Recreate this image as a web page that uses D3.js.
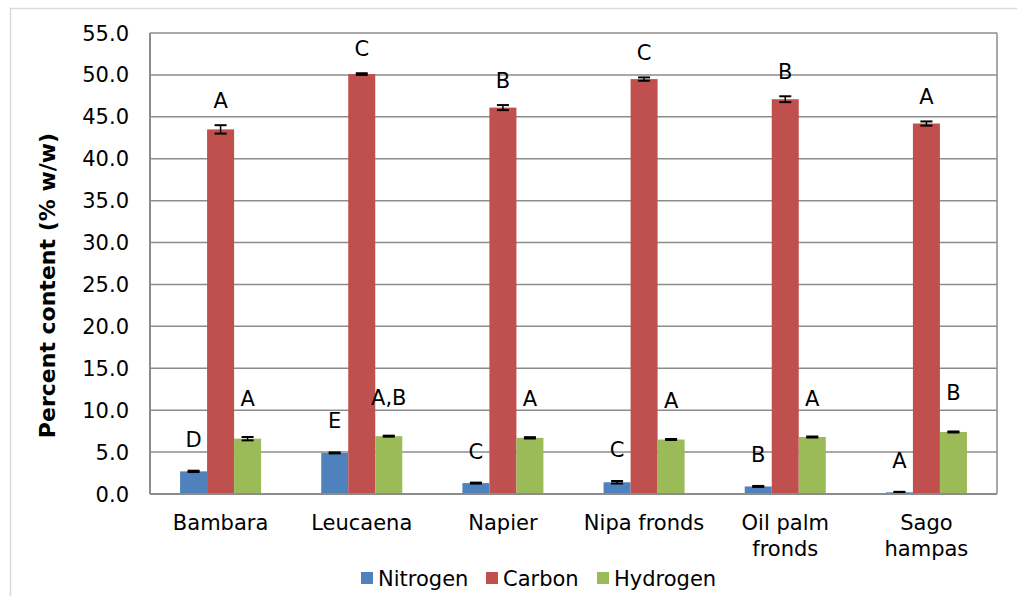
<!DOCTYPE html>
<html>
<head>
<meta charset="utf-8">
<script src="https://cdn.jsdelivr.net/npm/d3@7"></script>
<style>
  body { margin: 0; background: #fff; }
  text { font-family: "DejaVu Sans", Verdana, sans-serif; fill: #000; }
</style>
</head>
<body>
<svg id="chart" width="1017" height="596"></svg>
<script>
// data
const categories = ["Bambara", "Leucaena", "Napier", "Nipa fronds", "Oil palm\nfronds", "Sago\nhampas"]
const seriesNames = ["Nitrogen", "Carbon", "Hydrogen"]
const nitrogen = [2.7, 4.9, 1.3, 1.4, 0.9, 0.2]
const carbon = [43.5, 50.1, 46.1, 49.5, 47.1, 44.2]
const hydrogen = [6.6, 6.9, 6.7, 6.5, 6.8, 7.4]
const nitrogenErr = [0.08, 0.06, 0.06, 0.15, 0.06, 0.06]
const carbonErr = [0.5, 0.1, 0.3, 0.2, 0.35, 0.25]
const hydrogenErr = [0.2, 0.06, 0.08, 0.06, 0.06, 0.06]
const nitrogenLetters = ["D", "E", "C", "C", "B", "A"]
const carbonLetters = ["A", "C", "B", "C", "B", "A"]
const hydrogenLetters = ["A", "A,B", "A", "A", "A", "B"]
const yTicks = [0, 5, 10, 15, 20, 25, 30, 35, 40, 45, 50, 55]

const colors = ["#4F81BD", "#C0504D", "#9BBB59"]
const letterOffset = [24, 17, 31]
const fontSize = "21px"

const margin = {top: 33, bottom: 102, left: 150, right: 20}
const width = 1017, height = 596
const svg = d3.select("#chart")

// outer chart frame
svg.append("rect")
    .attr("x", 10.5).attr("y", 8.5)
    .attr("width", 1040).attr("height", 640)
    .attr("fill", "none").attr("stroke", "#d9d9d9").attr("stroke-width", 1.5)

const x0 = d3.scaleBand()
    .domain(categories)
    .range([margin.left, width - margin.right])
    .paddingInner(0.426).paddingOuter(0.213)
const x1 = d3.scaleBand()
    .domain(seriesNames)
    .range([0, x0.bandwidth()])
const y = d3.scaleLinear()
    .domain([0, 55])
    .range([height - margin.bottom, margin.top])

// grid
svg.append("g").selectAll("line")
    .data(yTicks)
    .join("line")
    .attr("x1", margin.left).attr("x2", width - margin.right)
    .attr("y1", d => y(d)).attr("y2", d => y(d))
    .attr("stroke", "#8c8c8c").attr("stroke-width", 1.5)
svg.append("line")
    .attr("x1", width - margin.right).attr("x2", width - margin.right)
    .attr("y1", margin.top).attr("y2", y(0))
    .attr("stroke", "#8c8c8c").attr("stroke-width", 1.5)

const rows = categories.map((c, i) => ({
    cat: c,
    values: [
        {s: 0, v: nitrogen[i], e: nitrogenErr[i], l: nitrogenLetters[i]},
        {s: 1, v: carbon[i], e: carbonErr[i], l: carbonLetters[i]},
        {s: 2, v: hydrogen[i], e: hydrogenErr[i], l: hydrogenLetters[i]}
    ]
}))

const groups = svg.append("g").selectAll("g")
    .data(rows)
    .join("g")
    .attr("transform", d => `translate(${x0(d.cat)},0)`)

groups.selectAll("rect")
    .data(d => d.values)
    .join("rect")
    .attr("x", d => x1(seriesNames[d.s]))
    .attr("width", x1.bandwidth())
    .attr("y", d => y(d.v))
    .attr("height", d => y(0) - y(d.v))
    .attr("fill", d => colors[d.s])

// error bars
const err = groups.selectAll("g.err")
    .data(d => d.values)
    .join("g").attr("class", "err")
    .attr("transform", d => `translate(${x1(seriesNames[d.s]) + x1.bandwidth() / 2},0)`)
err.append("line")
    .attr("x1", 0).attr("x2", 0)
    .attr("y1", d => y(d.v - d.e)).attr("y2", d => y(d.v + d.e))
    .attr("stroke", "#000").attr("stroke-width", 1.5)
err.append("line")
    .attr("x1", -6).attr("x2", 6)
    .attr("y1", d => y(d.v + d.e)).attr("y2", d => y(d.v + d.e))
    .attr("stroke", "#000").attr("stroke-width", 2)
err.append("line")
    .attr("x1", -6).attr("x2", 6)
    .attr("y1", d => y(d.v - d.e)).attr("y2", d => y(d.v - d.e))
    .attr("stroke", "#000").attr("stroke-width", 2)

// significance letters
groups.selectAll("text.letter")
    .data(d => d.values)
    .join("text").attr("class", "letter")
    .attr("x", d => x1(seriesNames[d.s]) + x1.bandwidth() / 2)
    .attr("y", d => y(d.v + d.e) - letterOffset[d.s])
    .attr("text-anchor", "middle")
    .style("font-size", fontSize)
    .text(d => d.l)

// axes lines
svg.append("line")
    .attr("x1", margin.left).attr("x2", margin.left)
    .attr("y1", margin.top).attr("y2", y(0))
    .attr("stroke", "#8c8c8c").attr("stroke-width", 2)
svg.append("line")
    .attr("x1", margin.left).attr("x2", width - margin.right)
    .attr("y1", y(0)).attr("y2", y(0))
    .attr("stroke", "#8c8c8c").attr("stroke-width", 2)

// y tick labels
svg.append("g").selectAll("text")
    .data(yTicks)
    .join("text")
    .attr("x", margin.left - 21)
    .attr("y", d => y(d))
    .attr("dy", "0.36em")
    .attr("text-anchor", "end")
    .style("font-size", fontSize)
    .text(d => d.toFixed(1))

// category labels
const catLabels = svg.append("g").selectAll("text")
    .data(categories)
    .join("text")
    .attr("x", d => x0(d) + x0.bandwidth() / 2)
    .attr("y", 530)
    .attr("text-anchor", "middle")
    .style("font-size", fontSize)
catLabels.selectAll("tspan")
    .data(d => d.split("\n"))
    .join("tspan")
    .attr("x", function() { return d3.select(this.parentNode).attr("x") })
    .attr("dy", (d, i) => i === 0 ? 0 : 26)
    .text(d => d)

// y axis title
svg.append("text")
    .attr("transform", `translate(55,${(margin.top + y(0)) / 2 + 22}) rotate(-90)`)
    .attr("text-anchor", "middle")
    .style("font-size", "22px")
    .style("font-weight", "bold")
    .text("Percent content (% w/w)")

// legend
const legendX = [361, 486, 597]
const legend = svg.append("g").selectAll("g")
    .data(seriesNames)
    .join("g")
    .attr("transform", (d, i) => `translate(${legendX[i]},572)`)
legend.append("rect")
    .attr("width", 12).attr("height", 12)
    .attr("fill", (d, i) => colors[i])
legend.append("text")
    .attr("x", 17).attr("y", 6).attr("dy", "0.36em")
    .style("font-size", fontSize)
    .text(d => d)
</script>
</body>
</html>
